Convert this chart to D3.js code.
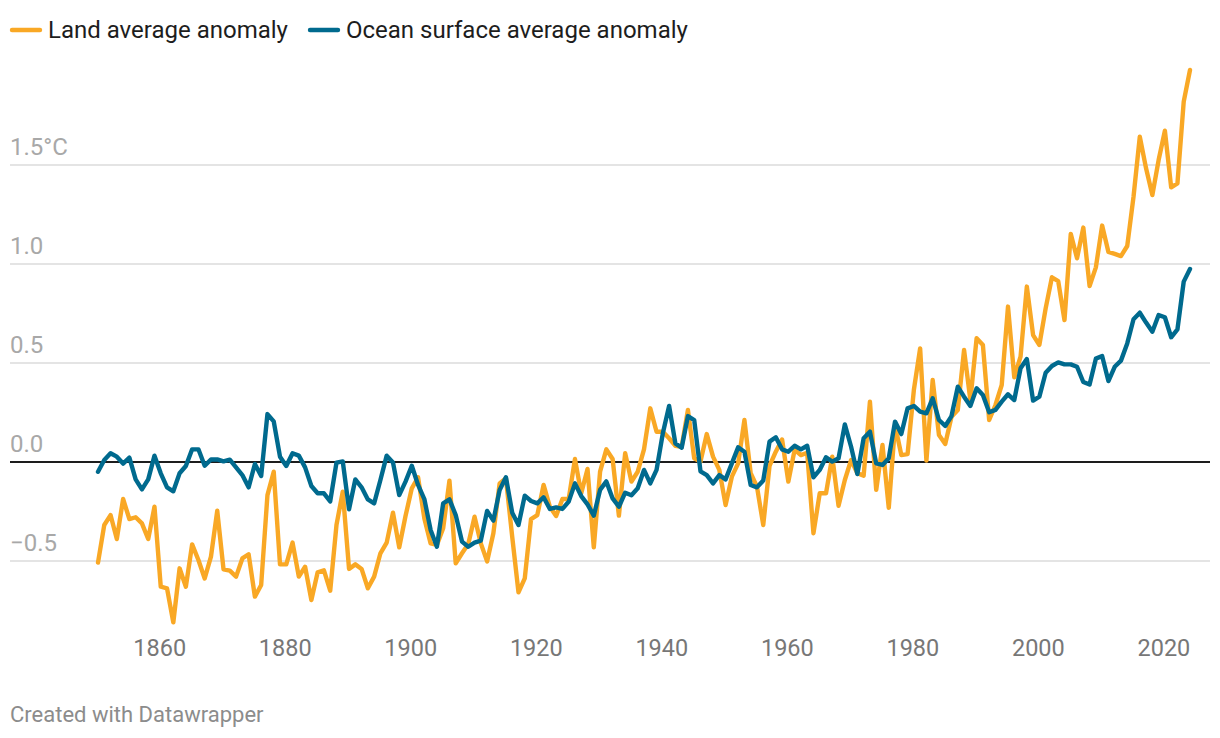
<!DOCTYPE html>
<html>
<head>
<meta charset="utf-8">
<script src="https://cdn.jsdelivr.net/npm/d3@7"></script>
<style>
  body { margin: 0; background: #fff; font-family: Roboto, sans-serif; }
  svg { display: block; }
</style>
</head>
<body>
<div id="chart"></div>
<script>
const firstYear = 1850;

const seriesNames = ["Land average anomaly", "Ocean surface average anomaly"];
const seriesColors = ["#f9a825", "#006a8e"];

const landAnomaly = [
  -0.508, -0.318, -0.268, -0.389, -0.187, -0.288, -0.279, -0.310, -0.389, -0.226,
  -0.630, -0.638, -0.810, -0.537, -0.630, -0.416, -0.495, -0.588, -0.478, -0.246,
  -0.542, -0.549, -0.579, -0.487, -0.466, -0.680, -0.621, -0.167, -0.049, -0.517,
  -0.517, -0.407, -0.579, -0.529, -0.697, -0.557, -0.547, -0.650, -0.318, -0.150,
  -0.540, -0.517, -0.540, -0.638, -0.579, -0.461, -0.407, -0.256, -0.431, -0.273,
  -0.133, -0.077, -0.285, -0.411, -0.419, -0.335, -0.094, -0.512, -0.461, -0.414,
  -0.276, -0.411, -0.502, -0.360, -0.108, -0.082, -0.377, -0.658, -0.588, -0.288,
  -0.268, -0.116, -0.226, -0.273, -0.187, -0.187, 0.015, -0.158, -0.035, -0.431,
  -0.049, 0.064, 0.015, -0.271, 0.044, -0.099, -0.049, 0.064, 0.271, 0.153,
  0.153, 0.120, 0.082, 0.077, 0.263, 0.019, 0.002, 0.141, 0.027, -0.040,
  -0.217, -0.074, -0.007, 0.212, -0.057, -0.125, -0.318, -0.020, 0.052, 0.114,
  -0.099, 0.061, 0.035, 0.047, -0.360, -0.158, -0.158, 0.027, -0.221, -0.091,
  0.010, -0.057, -0.069, 0.305, -0.141, 0.086, -0.231, 0.187, 0.035, 0.040,
  0.364, 0.574, 0.007, 0.414, 0.136, 0.091, 0.229, 0.263, 0.566, 0.313,
  0.625, 0.591, 0.212, 0.288, 0.389, 0.785, 0.428, 0.532, 0.886, 0.641,
  0.591, 0.776, 0.933, 0.914, 0.717, 1.152, 1.029, 1.184, 0.889, 0.983,
  1.194, 1.061, 1.051, 1.040, 1.091, 1.340, 1.643, 1.483, 1.348, 1.525,
  1.673, 1.387, 1.407, 1.820, 1.980
];

const oceanAnomaly = [
  -0.049, 0.010, 0.044, 0.027, -0.008, 0.022, -0.088, -0.138, -0.088, 0.032,
  -0.057, -0.128, -0.148, -0.057, -0.020, 0.064, 0.064, -0.019, 0.013, 0.013,
  0.003, 0.012, -0.027, -0.066, -0.128, -0.010, -0.071, 0.242, 0.205, 0.027,
  -0.020, 0.044, 0.032, -0.027, -0.121, -0.158, -0.158, -0.199, -0.003, 0.003,
  -0.239, -0.088, -0.128, -0.189, -0.209, -0.091, 0.032, -0.002, -0.167, -0.099,
  -0.019, -0.116, -0.187, -0.343, -0.428, -0.209, -0.189, -0.268, -0.402, -0.428,
  -0.407, -0.397, -0.247, -0.296, -0.141, -0.077, -0.256, -0.318, -0.170, -0.197,
  -0.209, -0.178, -0.237, -0.229, -0.237, -0.200, -0.108, -0.172, -0.214, -0.271,
  -0.141, -0.098, -0.184, -0.226, -0.155, -0.168, -0.133, -0.040, -0.108, -0.040,
  0.145, 0.283, 0.094, 0.072, 0.232, 0.212, -0.047, -0.066, -0.108, -0.066,
  -0.088, -0.007, 0.074, 0.052, -0.116, -0.128, -0.094, 0.103, 0.125, 0.064,
  0.052, 0.082, 0.064, 0.082, -0.077, -0.040, 0.024, 0.002, 0.019, 0.190,
  0.077, -0.061, 0.120, 0.153, -0.007, -0.015, 0.019, 0.204, 0.141, 0.271,
  0.283, 0.254, 0.246, 0.322, 0.212, 0.182, 0.232, 0.380, 0.330, 0.283,
  0.372, 0.338, 0.251, 0.263, 0.305, 0.342, 0.313, 0.473, 0.520, 0.310,
  0.330, 0.451, 0.485, 0.503, 0.493, 0.493, 0.481, 0.404, 0.391, 0.522,
  0.535, 0.409, 0.481, 0.512, 0.599, 0.721, 0.754, 0.704, 0.658, 0.742,
  0.731, 0.630, 0.670, 0.911, 0.975
];

const yTicks = [-0.5, 0, 0.5, 1, 1.5];
const yTickLabels = ["\u22120.5", "0.0", "0.5", "1.0", "1.5\u00b0C"];
const xTicks = [1860, 1880, 1900, 1920, 1940, 1960, 1980, 2000, 2020];

const width = 1220, height = 738;
const left = 10, right = 1210;

const svg = d3.select("#chart")
  .append("svg")
    .attr("width", width)
    .attr("height", height);

const x = d3.scaleLinear().domain([1850, 2024]).range([98, 1190]);
const y = d3.scaleLinear().domain([-0.5, 1.5]).range([561, 165]);

// y grid, labels sit on top of the lines
const yAxis = svg.append("g")
  .attr("transform", "translate(" + left + ",0)")
  .call(d3.axisRight(y)
    .offset(0)
    .tickValues(yTicks)
    .tickSize(right - left)
    .tickFormat(function(d, i) { return yTickLabels[i]; }));

yAxis.select(".domain").remove();
yAxis.selectAll("line")
  .attr("stroke", function(d) { return d === 0 ? "#1d1d1d" : "#e4e4e4"; })
  .attr("stroke-width", 2);
yAxis.selectAll("text")
  .attr("x", 0)
  .attr("dy", -10)
  .attr("text-anchor", "start")
  .attr("fill", "#a8a8a8")
  .style("font-family", "Roboto")
  .style("font-size", "24px");

const xAxis = svg.append("g")
  .attr("transform", "translate(0,630)")
  .call(d3.axisBottom(x)
    .offset(0)
    .tickValues(xTicks)
    .tickSize(0)
    .tickFormat(d3.format("d")));

xAxis.select(".domain").remove();
xAxis.selectAll("text")
  .attr("y", 26)
  .attr("dy", 0)
  .attr("dx", -1)
  .attr("fill", "#777777")
  .style("font-family", "Roboto")
  .style("font-size", "23.5px");

const line = d3.line()
  .x(function(d, i) { return x(firstYear + i); })
  .y(function(d) { return y(d); });

[landAnomaly, oceanAnomaly].forEach(function(values, i) {
  svg.append("path")
    .datum(values)
    .attr("fill", "none")
    .attr("stroke", seriesColors[i])
    .attr("stroke-width", 4.4)
    .attr("stroke-linejoin", "round")
    .attr("stroke-linecap", "round")
    .attr("d", line);
});

// legend
const legendX = [10, 308];
seriesNames.forEach(function(name, i) {
  svg.append("line")
    .attr("x1", legendX[i] + 2)
    .attr("x2", legendX[i] + 30)
    .attr("y1", 30)
    .attr("y2", 30)
    .attr("stroke", seriesColors[i])
    .attr("stroke-width", 4.4)
    .attr("stroke-linecap", "round");

  svg.append("text")
    .attr("x", legendX[i] + 38)
    .attr("y", 38)
    .attr("fill", "#1d1d1d")
    .style("font-family", "Roboto")
    .style("font-size", "24px")
    .text(name);
});

svg.append("text")
  .attr("x", 10)
  .attr("y", 722)
  .attr("fill", "#8c8c8c")
  .style("font-family", "Roboto")
  .style("font-size", "22px")
  .text("Created with Datawrapper");
</script>
</body>
</html>
